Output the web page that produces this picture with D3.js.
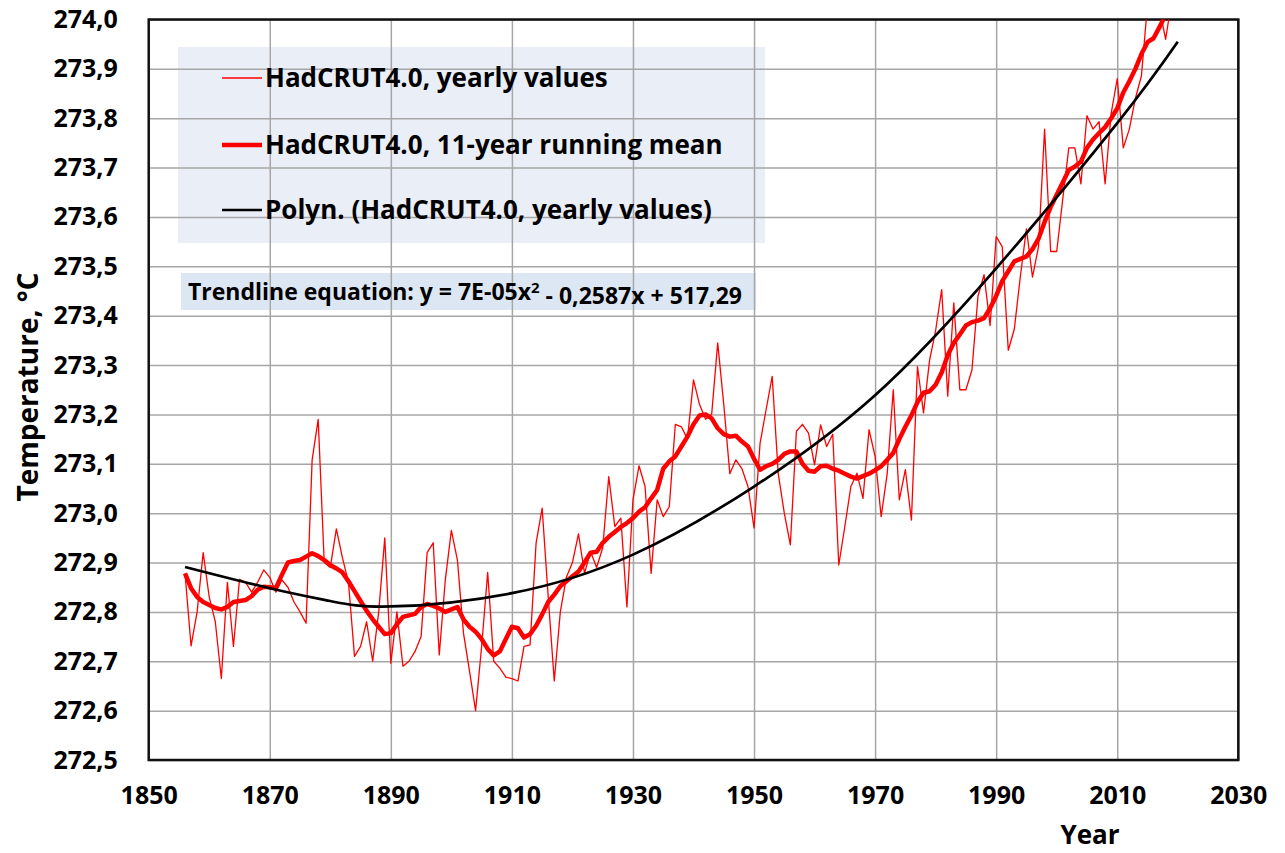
<!DOCTYPE html>
<html><head><meta charset="utf-8">
<script src="https://cdn.jsdelivr.net/npm/d3@7"></script>
<style>
body{margin:0;background:#fff}
svg{display:block}
text{font-family:"Open Sans",sans-serif;font-weight:700;fill:#000}
</style>
</head><body>
<svg id="chart" width="1285" height="853"></svg>
<script>
// ---------- data ----------
const yearlyStart = 1856;
const yearlyValues = [
272.878,272.731,272.80,272.92,272.83,272.78,272.665,272.86,272.73,272.866,
272.86,272.84,272.86,272.885,272.87,272.84,272.865,272.85,272.82,272.80,
272.777,273.108,273.19,272.90,272.89,272.968,272.91,272.86,272.71,272.73,
272.78,272.70,272.80,272.95,272.696,272.80,272.69,272.70,272.72,272.75,
272.92,272.94,272.713,272.865,272.965,272.905,272.757,272.68,272.60,272.73,
272.88,272.70,272.686,272.668,272.665,272.66,272.73,272.733,272.94,273.01,
272.83,272.66,272.80,272.87,272.90,272.958,272.878,272.922,272.89,272.93,
273.074,272.973,272.99,272.81,273.027,273.096,273.054,272.878,273.027,272.993,
273.013,273.18,273.175,273.15,273.27,273.22,273.19,273.20,273.345,273.22,
273.08,273.108,273.09,273.054,272.97,273.142,273.21,273.277,273.08,273.0,
272.936,273.166,273.18,273.162,273.098,273.179,273.135,273.16,272.895,272.973,
273.054,273.081,273.03,273.169,273.115,272.993,273.08,273.25,273.027,273.088,
272.986,273.297,273.203,273.31,273.37,273.453,273.237,273.426,273.25,273.25,
273.29,273.44,273.483,273.38,273.56,273.54,273.33,273.373,273.48,273.576,
273.478,273.54,273.778,273.53,273.53,273.636,273.74,273.74,273.667,273.805,
273.778,273.793,273.667,273.81,273.88,273.74,273.778,273.84,273.886,274.03,
274.08,274.02,273.96,274.04
];
const meanStart = 1856;
const meanValues = [
272.878,272.848,272.83,272.82,272.814,272.808,272.805,272.81,272.82,272.822,
272.824,272.832,272.845,272.851,272.85,272.848,272.875,272.90,272.903,272.905,
272.912,272.919,272.913,272.905,272.895,272.888,272.88,272.862,272.842,272.822,
272.802,272.785,272.77,272.755,272.757,272.775,272.79,272.793,272.796,272.81,
272.816,272.812,272.807,272.80,272.805,272.81,272.785,272.77,272.76,272.745,
272.725,272.712,272.72,272.745,272.77,272.767,272.748,272.755,272.772,272.795,
272.82,272.835,272.852,272.862,272.872,272.882,272.90,272.92,272.922,272.94,
272.952,272.962,272.972,272.98,272.99,273.003,273.012,273.03,273.047,273.09,
273.105,273.115,273.135,273.155,273.18,273.198,273.20,273.192,273.172,273.16,
273.155,273.157,273.145,273.135,273.11,273.088,273.095,273.10,273.108,273.12,
273.125,273.125,273.10,273.086,273.084,273.095,273.096,273.09,273.086,273.08,
273.074,273.07,273.075,273.08,273.087,273.095,273.108,273.122,273.15,273.175,
273.198,273.225,273.244,273.247,273.26,273.285,273.32,273.345,273.362,273.38,
273.387,273.39,273.395,273.415,273.44,273.47,273.49,273.51,273.515,273.52,
273.535,273.556,273.59,273.62,273.645,273.67,273.695,273.702,273.712,273.74,
273.757,273.77,273.782,273.80,273.82,273.852,273.875,273.90,273.93,273.954,
273.962,273.985,274.01
];
const trendYears  = [1856, 1870, 1880, 1890, 1910, 1930, 1950, 1970, 1990, 2010, 2020];
const trendValues = [272.891, 272.848, 272.822, 272.811, 272.838, 272.916, 273.054, 273.239, 273.496, 273.790, 273.955];
const xTicks = [1850, 1870, 1890, 1910, 1930, 1950, 1970, 1990, 2010, 2030];
const yTicks = [272.5, 272.6, 272.7, 272.8, 272.9, 273.0, 273.1, 273.2, 273.3, 273.4, 273.5, 273.6, 273.7, 273.8, 273.9, 274.0];
const legendLabels = ["HadCRUT4.0, yearly values", "HadCRUT4.0, 11-year running mean", "Polyn. (HadCRUT4.0, yearly values)"];

// ---------- layout ----------
const svg = d3.select("#chart");
const L = 148.7, R = 1238.3, T = 19.5, B = 760;
const x = d3.scaleLinear().domain([1850, 2030]).range([L, R]);
const y = d3.scaleLinear().domain([272.5, 274.0]).range([B, T]);
const fmt = d => d.toFixed(1).replace(".", ",");

svg.append("defs").append("clipPath").attr("id", "clip")
  .append("rect").attr("x", L).attr("y", T).attr("width", R - L).attr("height", B - T);

// legend and equation boxes (behind gridlines)
svg.append("rect").attr("x", 178).attr("y", 47).attr("width", 587).attr("height", 196).attr("fill", "#e9eef7");
svg.append("rect").attr("x", 181).attr("y", 273).attr("width", 575).attr("height", 37).attr("fill", "#dde7f3");

// gridlines
const gx = svg.append("g").attr("transform", `translate(0,${B})`)
  .call(d3.axisBottom(x).tickValues(xTicks).tickSize(-(B - T)).tickFormat(""));
gx.select(".domain").remove();
gx.selectAll("line").attr("stroke", "#a6a6a6").attr("stroke-width", 1.5);
const gy = svg.append("g").attr("transform", `translate(${L},0)`)
  .call(d3.axisLeft(y).tickValues(yTicks).tickSize(-(R - L)).tickFormat(""));
gy.select(".domain").remove();
gy.selectAll("line").attr("stroke", "#a6a6a6").attr("stroke-width", 1.5);

// tick labels
const ax = svg.append("g").attr("transform", `translate(0,${B})`)
  .call(d3.axisBottom(x).tickValues(xTicks).tickSize(0).tickPadding(26).tickFormat(d3.format("d")));
ax.select(".domain").remove();
ax.selectAll("text").attr("font-size", 25).attr("font-family", "Open Sans").attr("font-weight", 700).attr("fill", "#000");
const ay = svg.append("g").attr("transform", `translate(${L},0)`)
  .call(d3.axisLeft(y).tickValues(yTicks).tickSize(0).tickPadding(31).tickFormat(fmt));
ay.select(".domain").remove();
ay.selectAll("text").attr("font-size", 25).attr("font-family", "Open Sans").attr("font-weight", 700).attr("fill", "#000");

// plot border
svg.append("rect").attr("x", L).attr("y", T).attr("width", R - L).attr("height", B - T)
  .attr("fill", "none").attr("stroke", "#111").attr("stroke-width", 2.5);

// series
const plot = svg.append("g").attr("clip-path", "url(#clip)");
const yearly = yearlyValues.map((v, i) => [yearlyStart + i, v]);
const mean = meanValues.map((v, i) => [meanStart + i, v]);
const trend = trendYears.map((t, i) => [t, trendValues[i]]);
const line = d3.line().x(d => x(d[0])).y(d => y(d[1]));

plot.append("path").datum(yearly).attr("d", line).attr("fill", "none")
  .attr("stroke", "#ff0000").attr("stroke-width", 1.3).attr("stroke-linejoin", "round");
plot.append("path").datum(mean).attr("d", line).attr("fill", "none")
  .attr("stroke", "#ff0000").attr("stroke-width", 4.5).attr("stroke-linejoin", "round");
plot.append("path").datum(trend).attr("d", line.curve(d3.curveNatural)).attr("fill", "none")
  .attr("stroke", "#000").attr("stroke-width", 2.7);

// legend
const legendStyles = [
  {stroke: "#ff0000", w: 1.3},
  {stroke: "#ff0000", w: 4.5},
  {stroke: "#000", w: 2.7}
];
const legendY = [78, 145, 210];
legendLabels.forEach((lab, i) => {
  svg.append("line").attr("x1", 222).attr("x2", 262).attr("y1", legendY[i]).attr("y2", legendY[i])
    .attr("stroke", legendStyles[i].stroke).attr("stroke-width", legendStyles[i].w);
  svg.append("text").attr("x", 265).attr("y", legendY[i]).attr("dy", "0.35em")
    .attr("font-size", 26).text(lab);
});

// equation
const eq = svg.append("text").attr("x", 188).attr("y", 292).attr("dy", "0.35em").attr("font-size", 23);
eq.append("tspan").text("Trendline equation: y = 7E-05x");
eq.append("tspan").attr("dy", "-0.45em").attr("font-size", 15).text("2");
eq.append("tspan").attr("dy", "0.45em").text(" - 0,2587x + 517,29");

// axis titles
svg.append("text").attr("x", 1090).attr("y", 835).attr("dy", "0.35em").attr("text-anchor", "middle")
  .attr("font-size", 26).text("Year");
svg.append("text").attr("transform", "translate(28,387) rotate(-90)").attr("dy", "0.35em")
  .attr("text-anchor", "middle").attr("font-size", 28).text("Temperature, °C");
</script>
</body></html>
